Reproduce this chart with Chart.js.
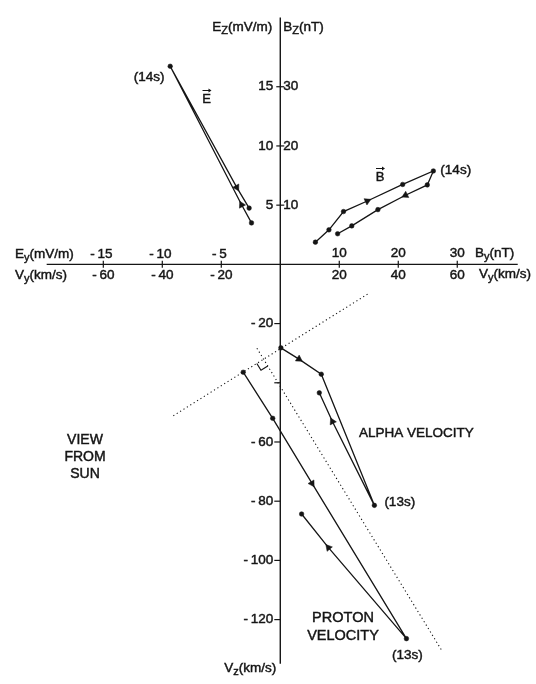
<!DOCTYPE html>
<html>
<head>
<meta charset="utf-8">
<script src="https://cdn.jsdelivr.net/npm/chart.js@4/dist/chart.umd.min.js"></script>
<style>
  html, body { margin: 0; padding: 0; background: #fff; }
  #wrap { width: 536px; height: 684px; }
</style>
</head>
<body>
<div id="wrap"><canvas id="c" width="536" height="684"></canvas></div>
<script>
// Electric field hodogram (mV/m)
const eY = [-2.44, -3.28, -9.33, -3.69, -2.64];
const eZ = [3.5, 5.03, 16.73, 6.5, 4.75];
const eArrow = [0, 1, 0, 1, 0];

// Magnetic field hodogram (nT)
const bY = [5.95, 8.25, 10.72, 14.75, 20.75, 25.95, 24.92, 21.22, 16.55, 12.12, 9.72];
const bZ = [3.75, 5.83, 8.92, 10.7, 13.5, 15.78, 13.42, 11.67, 9.25, 6.5, 5.17];
const bArrow = [0, 0, 0, 1, 0, 0, 0, 1, 0, 0, 0];

// Alpha velocity (km/s)
const aY = [0.2, 6.33, 13.9, 31.9, 17.67, 13.23];
const aZ = [-28.2, -32.0, -37.1, -81.4, -53.1, -43.4];
const aArrow = [0, 1, 0, 0, 1, 0];

// Proton velocity (km/s)
const pY = [-12.57, -2.57, 10.77, 42.77, 16.33, 7.23];
const pZ = [-36.43, -52.0, -74.0, -126.43, -95.67, -84.33];
const pArrow = [0, 0, 1, 0, 1, 0];

// Guide lines (km/s): through the velocity start points, and its perpendicular
const guide1Y = [-36.27, 29.83];
const guide1Z = [-51.13, -9.9];
const guide2Y = [-7.93, 54.83];
const guide2Z = [-28.33, -130.57];

// Axis ticks
const vyTicks = [-60, -40, -20, 20, 40, 60];   // km/s, below the horizontal axis
const eyTicks = [-15, -10, -5];               // mV/m, above (left half)
const byTicks = [10, 20, 30];                 // nT, above (right half)
const ezTicks = [5, 10, 15];                  // mV/m, left of vertical axis
const bzTicks = [10, 20, 30];                 // nT, right of vertical axis
const vzTicks = [-20, -40, -60, -80, -100, -120];
const vzLabels = ['-20', '', '-60', '-80', '-100', '-120'];

// Common frame: 1 km/s = 1/4 mV/m = 1/2 nT on the page
const E_PER_V = 1 / 4;
const B_PER_V = 1 / 2;
const X_MIN = -93.5, X_MAX = 85.17;
const Y_MIN = -140.23, Y_MAX = 87.78;

const INK = '#151515';
const FONT = '"Liberation Sans", Arial, Helvetica, sans-serif';
const WEIGHT = 0.45; // extra stroke to give the lettering a heavier look

function pts(xs, ys) { return xs.map((x, i) => ({ x, y: ys[i] })); }

function num(v) { return v < 0 ? '-\u2009' + Math.abs(v) : String(v); }
function numLabel(s) { return s.charAt(0) === '-' ? '-\u2009' + s.slice(1) : s; }

function rotations(xs, ys, flags) {
  return flags.map((f, i) => {
    if (!f) return 0;
    const i0 = Math.max(0, i - 1), i1 = Math.min(xs.length - 1, i + 1);
    const dx = xs[i1] - xs[i0], dy = ys[i1] - ys[i0];
    return Math.atan2(dx, dy) * 180 / Math.PI;
  });
}

function hodogram(label, xs, ys, flags, xAxisID, yAxisID) {
  const rot = rotations(xs, ys, flags);
  return {
    label, data: pts(xs, ys), xAxisID, yAxisID,
    showLine: true, borderColor: INK, borderWidth: 1.3, tension: 0,
    pointBackgroundColor: INK, pointBorderColor: INK, pointBorderWidth: 0.5,
    pointStyle: c => flags[c.dataIndex] ? 'triangle' : 'circle',
    pointRadius: c => flags[c.dataIndex] ? 4 : 2.3,
    rotation: c => rot[c.dataIndex],
    clip: false
  };
}

function guide(label, xs, ys) {
  return {
    label, data: pts(xs, ys), xAxisID: 'x', yAxisID: 'y',
    showLine: true, borderColor: INK, borderWidth: 1.1, borderDash: [1.2, 2.8],
    pointRadius: 0, tension: 0, clip: false
  };
}

function paint(ctx, s, x, y) {
  ctx.fillText(s, x, y);
  ctx.lineWidth = WEIGHT;
  ctx.strokeText(s, x, y);
}

// Text with subscripts: parts = [[text, isSub], ...]
function rich(ctx, parts, x, y, align, size) {
  const fonts = parts.map(p => (p[1] ? Math.round(size * 0.78) : size) + 'px ' + FONT);
  const widths = parts.map((p, i) => { ctx.font = fonts[i]; return ctx.measureText(p[0]).width; });
  const total = widths.reduce((a, b) => a + b, 0);
  let cx = align === 'right' ? x - total : align === 'center' ? x - total / 2 : x;
  ctx.textAlign = 'left';
  ctx.textBaseline = 'middle';
  parts.forEach((p, i) => {
    ctx.font = fonts[i];
    paint(ctx, p[0], cx, p[1] ? y + size * 0.28 : y);
    cx += widths[i];
  });
}

function text(ctx, s, x, y, align, size) {
  ctx.font = size + 'px ' + FONT;
  ctx.textAlign = align;
  ctx.textBaseline = 'middle';
  paint(ctx, s, x, y);
}

function vecLabel(ctx, s, x, y, size) {
  text(ctx, s, x, y, 'center', size);
  const top = y - size * 0.5 - 2;
  ctx.lineWidth = 1;
  ctx.beginPath();
  ctx.moveTo(x - 4, top); ctx.lineTo(x + 3, top);
  ctx.stroke();
  ctx.beginPath();
  ctx.moveTo(x + 5, top); ctx.lineTo(x + 2, top - 2); ctx.lineTo(x + 2, top + 2); ctx.closePath();
  ctx.fill();
}

const axesPlugin = {
  id: 'crossAxes',
  beforeDatasetsDraw(chart) {
    const { ctx, scales } = chart;
    const sx = scales.x, sy = scales.y;
    const ox = sx.getPixelForValue(0), oy = sy.getPixelForValue(0);
    ctx.save();
    ctx.strokeStyle = INK;
    ctx.lineWidth = 1.4;
    // horizontal axis
    ctx.beginPath();
    ctx.moveTo(sx.getPixelForValue(-79.2), oy);
    ctx.lineTo(sx.getPixelForValue(80.5), oy);
    ctx.stroke();
    // vertical axis
    ctx.beginPath();
    ctx.moveTo(ox, sy.getPixelForValue(83.4));
    ctx.lineTo(ox, sy.getPixelForValue(-134.9));
    ctx.stroke();
    ctx.lineWidth = 1.2;
    // horizontal ticks
    vyTicks.forEach(v => {
      const px = sx.getPixelForValue(v);
      ctx.beginPath(); ctx.moveTo(px, oy - 3.5); ctx.lineTo(px, oy + 3.5); ctx.stroke();
    });
    // vertical ticks above origin
    ezTicks.forEach(v => {
      const py = scales.yE.getPixelForValue(v);
      ctx.beginPath(); ctx.moveTo(ox - 4, py); ctx.lineTo(ox + 4, py); ctx.stroke();
    });
    // vertical ticks below origin
    vzTicks.forEach(v => {
      const py = sy.getPixelForValue(v);
      ctx.beginPath(); ctx.moveTo(ox - 6, py); ctx.lineTo(ox, py); ctx.stroke();
    });
    ctx.restore();
  },
  afterDatasetsDraw(chart) {
    const { ctx, scales } = chart;
    const sx = scales.x, sy = scales.y;
    const ox = sx.getPixelForValue(0), oy = sy.getPixelForValue(0);
    const F = 13.5;
    ctx.save();
    ctx.fillStyle = INK;
    ctx.strokeStyle = INK;

    // horizontal axis labels
    eyTicks.forEach(v => text(ctx, num(v), scales.xE.getPixelForValue(v) - 2, oy - 10, 'center', F));
    byTicks.forEach(v => text(ctx, num(v), scales.xB.getPixelForValue(v), oy - 11, 'center', F));
    vyTicks.forEach(v => text(ctx, num(v), sx.getPixelForValue(v), oy + 11, 'center', F));
    rich(ctx, [['E', 0], ['y', 1], ['(mV/m)', 0]], 15, oy - 10, 'left', F);
    rich(ctx, [['V', 0], ['y', 1], ['(km/s)', 0]], 15, oy + 11, 'left', F);
    rich(ctx, [['B', 0], ['y', 1], ['(nT)', 0]], 475, oy - 11, 'left', F);
    rich(ctx, [['V', 0], ['y', 1], ['(km/s)', 0]], 479, oy + 10, 'left', F);

    // vertical axis labels
    ezTicks.forEach(v => text(ctx, num(v), ox - 7, scales.yE.getPixelForValue(v), 'right', F));
    bzTicks.forEach(v => text(ctx, num(v), ox + 3, scales.yB.getPixelForValue(v), 'left', F));
    vzTicks.forEach((v, i) => {
      if (vzLabels[i]) text(ctx, numLabel(vzLabels[i]), ox - 7, sy.getPixelForValue(v), 'right', F);
    });
    rich(ctx, [['E', 0], ['Z', 1], ['(mV/m)', 0]], ox - 8, 27, 'right', F);
    rich(ctx, [['B', 0], ['Z', 1], ['(nT)', 0]], ox + 3, 27, 'left', F);
    rich(ctx, [['V', 0], ['z', 1], ['(km/s)', 0]], ox - 4, 668, 'right', F);

    // time marks at the turning points
    const e14 = { x: scales.xE.getPixelForValue(eY[2]), y: scales.yE.getPixelForValue(eZ[2]) };
    text(ctx, '(14s)', e14.x - 21, e14.y + 11.5, 'center', F);
    const b14 = { x: scales.xB.getPixelForValue(bY[5]), y: scales.yB.getPixelForValue(bZ[5]) };
    text(ctx, '(14s)', b14.x + 7, b14.y - 1, 'left', F);
    const a13 = { x: sx.getPixelForValue(aY[3]), y: sy.getPixelForValue(aZ[3]) };
    text(ctx, '(13s)', a13.x + 10, a13.y - 3, 'left', F);
    const p13 = { x: sx.getPixelForValue(pY[3]), y: sy.getPixelForValue(pZ[3]) };
    text(ctx, '(13s)', p13.x + 1, p13.y + 16.5, 'center', F);

    // vector names
    vecLabel(ctx, 'E', 206.5, 99, 13);
    vecLabel(ctx, 'B', 380, 177, 13);

    // captions
    text(ctx, 'ALPHA VELOCITY', 359, 433, 'left', F);
    text(ctx, 'PROTON', 343, 618, 'center', 14.5);
    text(ctx, 'VELOCITY', 343, 636, 'center', 14.5);
    text(ctx, 'VIEW', 85, 440, 'center', 14);
    text(ctx, 'FROM', 85, 457, 'center', 14);
    text(ctx, 'SUN', 85, 474, 'center', 14);

    // right-angle mark where the two guide lines meet
    const P = (xs, ys, i) => ({ x: sx.getPixelForValue(xs[i]), y: sy.getPixelForValue(ys[i]) });
    const a1 = P(guide1Y, guide1Z, 0), a2 = P(guide1Y, guide1Z, 1);
    const c1 = P(guide2Y, guide2Z, 0), c2 = P(guide2Y, guide2Z, 1);
    const d1 = { x: a2.x - a1.x, y: a2.y - a1.y }, d2 = { x: c2.x - c1.x, y: c2.y - c1.y };
    const den = d1.x * d2.y - d1.y * d2.x;
    const t = ((c1.x - a1.x) * d2.y - (c1.y - a1.y) * d2.x) / den;
    const I = { x: a1.x + t * d1.x, y: a1.y + t * d1.y };
    const n1 = Math.hypot(d1.x, d1.y), n2 = Math.hypot(d2.x, d2.y);
    const u1 = { x: -d1.x / n1, y: -d1.y / n1 };   // toward lower left
    const u2 = { x: d2.x / n2, y: d2.y / n2 };     // toward lower right
    const s = 8;
    ctx.lineWidth = 1.2;
    ctx.beginPath();
    ctx.moveTo(I.x + s * u1.x, I.y + s * u1.y);
    ctx.lineTo(I.x + s * (u1.x + u2.x), I.y + s * (u1.y + u2.y));
    ctx.lineTo(I.x + s * u2.x, I.y + s * u2.y);
    ctx.stroke();

    ctx.restore();
  }
};

new Chart(document.getElementById('c'), {
  type: 'scatter',
  data: {
    datasets: [
      guide('guide1', guide1Y, guide1Z),
      guide('guide2', guide2Y, guide2Z),
      hodogram('E', eY, eZ, eArrow, 'xE', 'yE'),
      hodogram('B', bY, bZ, bArrow, 'xB', 'yB'),
      hodogram('Alpha velocity', aY, aZ, aArrow, 'x', 'y'),
      hodogram('Proton velocity', pY, pZ, pArrow, 'x', 'y')
    ]
  },
  options: {
    responsive: false,
    devicePixelRatio: 1,
    animation: false,
    layout: { padding: 0 },
    plugins: { legend: { display: false }, tooltip: { enabled: false } },
    scales: {
      x: { type: 'linear', min: X_MIN, max: X_MAX, display: false },
      y: { type: 'linear', min: Y_MIN, max: Y_MAX, display: false },
      xE: { type: 'linear', axis: 'x', min: X_MIN * E_PER_V, max: X_MAX * E_PER_V, display: false },
      yE: { type: 'linear', axis: 'y', min: Y_MIN * E_PER_V, max: Y_MAX * E_PER_V, display: false },
      xB: { type: 'linear', axis: 'x', min: X_MIN * B_PER_V, max: X_MAX * B_PER_V, display: false },
      yB: { type: 'linear', axis: 'y', min: Y_MIN * B_PER_V, max: Y_MAX * B_PER_V, display: false }
    }
  },
  plugins: [axesPlugin]
});
</script>
</body>
</html>
